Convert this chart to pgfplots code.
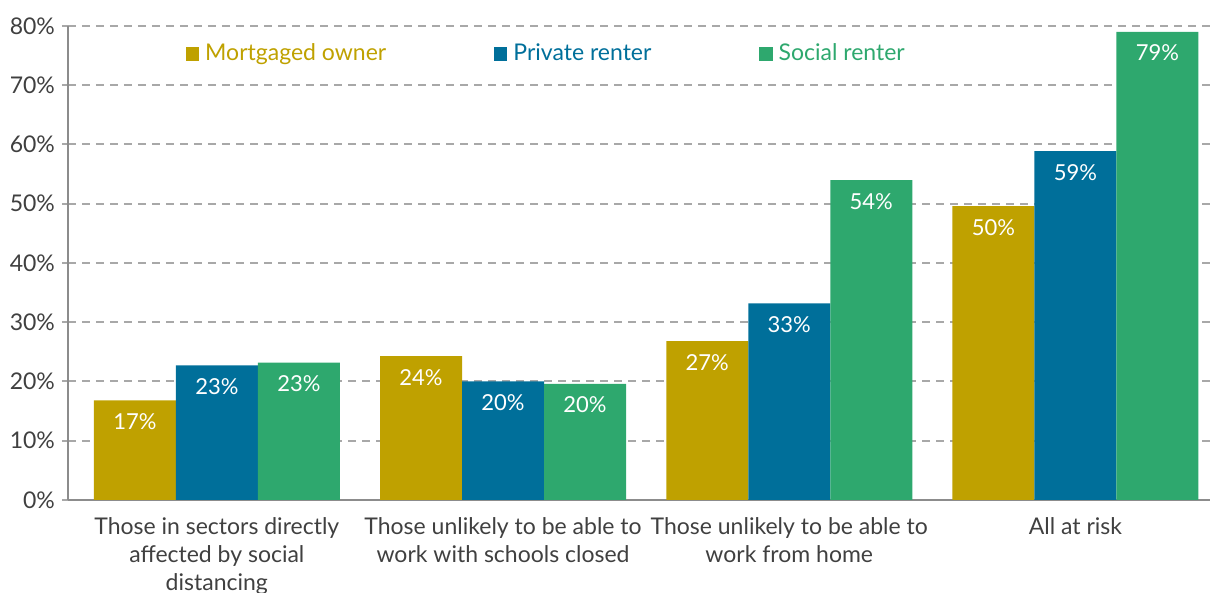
\documentclass[border=0pt]{standalone}
\usepackage{pgfplots}
\pgfplotsset{compat=1.18}
\usepackage{fontspec}
\setmainfont{Lato}
\usetikzlibrary{calc}
\definecolor{cM}{HTML}{BFA100}
\definecolor{cP}{HTML}{006F9A}
\definecolor{cS}{HTML}{2EA86E}
\definecolor{txt}{HTML}{404040}
\definecolor{gridc}{HTML}{A8A8A8}
\definecolor{axc}{HTML}{8C8C8C}
\begin{document}
\begin{tikzpicture}
\begin{axis}[
  scale only axis, width=571pt, height=237pt,
  ybar=0pt, bar width=41pt,
  xmin=-0.52, xmax=3.47, ymin=0, ymax=80,
  xtick={0,1,2,3},
  xticklabels={{Those in sectors directly\\affected by social\\distancing},{Those unlikely to be able to\\work with schools closed},{Those unlikely to be able to\\work from home},{All at risk}},
  xticklabel style={align=center, font=\fontsize{11.5}{14}\selectfont, text=txt, yshift=-2pt},
  major x tick style={draw=none},
  ytick={0,10,...,80},
  yticklabel={\pgfmathprintnumber{\tick}\%},
  /pgf/number format/assume math mode=true,
  yticklabel style={font=\fontsize{11.5}{14}\selectfont, text=txt},
  tick align=outside, major tick length=3pt,
  ytick style={draw=gridc, line width=1pt},
  ymajorgrids, grid style={draw=gridc, line width=1pt, dash pattern=on 4pt off 3pt},
  axis x line*=bottom, axis y line*=left,
  axis line style={draw=axc, line width=0.8pt, -},
  nodes near coords={\pgfmathprintnumber[fixed,precision=0]{\pgfplotspointmeta}\%},
  nodes near coords style={anchor=north, text=white, font=\fontsize{11}{12}\selectfont, yshift=-3pt},
  legend style={at={(rel axis cs:0.103,0.941)}, anchor=west, draw=none, fill=none, inner sep=0pt,
    font=\fontsize{11.5}{14}\selectfont,
    /tikz/every odd column/.append style={column sep=1pt},
    /tikz/every even column/.append style={column sep=52pt}},
  legend columns=3,
  legend cell align=left,
  legend image code/.code={\fill[#1] (0pt,-3.3pt) rectangle (6.6pt,3.3pt);},
]
\coordinate (O) at (rel axis cs:0,0);
\coordinate (T) at (rel axis cs:1,1);
\addplot[fill=cM, draw=none] coordinates {(0,16.8) (1,24.3) (2,26.8) (3,49.6)};
\addlegendentry{\textcolor{cM}{Mortgaged owner}}
\addplot[fill=cP, draw=none] coordinates {(0,22.7) (1,20.0) (2,33.2) (3,58.9)};
\addlegendentry{\textcolor{cP}{Private renter}}
\addplot[fill=cS, draw=none] coordinates {(0,23.2) (1,19.6) (2,54.0) (3,79.0)};
\addlegendentry{\textcolor{cS}{Social renter}}
\end{axis}
\pgfresetboundingbox
\path[use as bounding box] ($(O)+(-34pt,-46.5pt)$) rectangle ($(T)+(0pt,13pt)$);
\end{tikzpicture}
\end{document}
